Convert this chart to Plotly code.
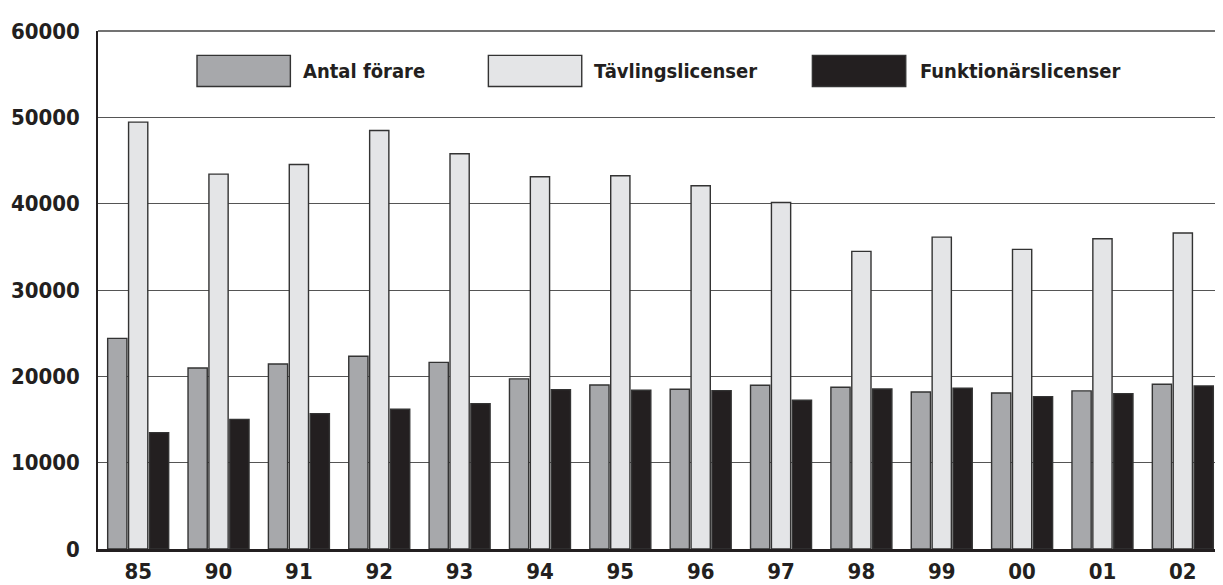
import plotly.graph_objects as go

years = ["85", "90", "91", "92", "93", "94", "95", "96", "97", "98", "99", "00", "01", "02"]
antal_forare = [24400, 20970, 21430, 22320, 21620, 19700, 19000, 18500, 18960, 18730, 18190, 18070, 18310, 19080]
tavlingslicenser = [49440, 43420, 44540, 48470, 45780, 43110, 43230, 42070, 40140, 34470, 36130, 34700, 35940, 36600]
funktionarslicenser = [13480, 15020, 15680, 16190, 16840, 18460, 18380, 18350, 17230, 18540, 18620, 17650, 18000, 18890]
series_names = ["Antal förare", "Tävlingslicenser", "Funktionärslicenser"]
colors = ["#a7a8ab", "#e4e5e7", "#231f20"]
y_ticks = [0, 10000, 20000, 30000, 40000, 50000, 60000]

FONT = "DejaVu Sans Condensed"

fig = go.Figure()
for name, vals, col in zip(series_names, [antal_forare, tavlingslicenser, funktionarslicenser], colors):
    fig.add_trace(go.Bar(
        x=years, y=vals, name=name,
        marker=dict(color=col, line=dict(color="#333333", width=1.4)),
        showlegend=False,
    ))

# Custom legend (large swatches like the reference)
legend_items = [
    (0.088, 0.171, 0.180, series_names[0], colors[0]),
    (0.347, 0.430, 0.439, series_names[1], colors[1]),
    (0.635, 0.718, 0.729, series_names[2], colors[2]),
]
for x0, x1, xt, name, col in legend_items:
    fig.add_shape(type="rect", xref="paper", yref="paper", x0=x0, x1=x1,
                  y0=0.893, y1=0.953, fillcolor=col, line=dict(color="#333333", width=1.4))
    fig.add_annotation(xref="paper", yref="paper", x=xt, y=0.923, text="<b>%s</b>" % name,
                       showarrow=False, xanchor="left", yanchor="middle",
                       font=dict(family=FONT, size=20, color="#231f20"))

# top frame line (60000 gridline at the plot's top edge)
fig.add_shape(type="line", xref="paper", yref="paper", x0=0, x1=1, y0=1, y1=1,
              line=dict(color="#444444", width=1.5))

# page body has an 8px margin, so the figure is sized/offset to land the plot area where the reference has it
fig.update_layout(
    width=1215, height=577,
    margin=dict(l=90, r=0, t=23, b=36, autoexpand=False),
    paper_bgcolor="white", plot_bgcolor="white",
    barmode="group", bargap=0.22, bargroupgap=0.08,
    font=dict(family=FONT, color="#231f20"),
)
fig.update_xaxes(
    type="category", range=[-0.5, 13.5], automargin=False,
    showline=True, linecolor="#231f20", linewidth=2.5,
    tickfont=dict(family=FONT, size=22, color="#231f20", weight="bold"),
    ticklabelstandoff=1, showgrid=False,
)
fig.update_yaxes(
    range=[0, 60000], tickvals=y_ticks, ticktext=[str(v) for v in y_ticks],
    automargin=False,
    showline=True, linecolor="#231f20", linewidth=1.5,
    showgrid=True, gridcolor="#555555", gridwidth=1.2,
    zeroline=False,
    tickfont=dict(family=FONT, size=22, color="#231f20", weight="bold"),
    ticklabelstandoff=12,
)

fig.write_html("out.html")
